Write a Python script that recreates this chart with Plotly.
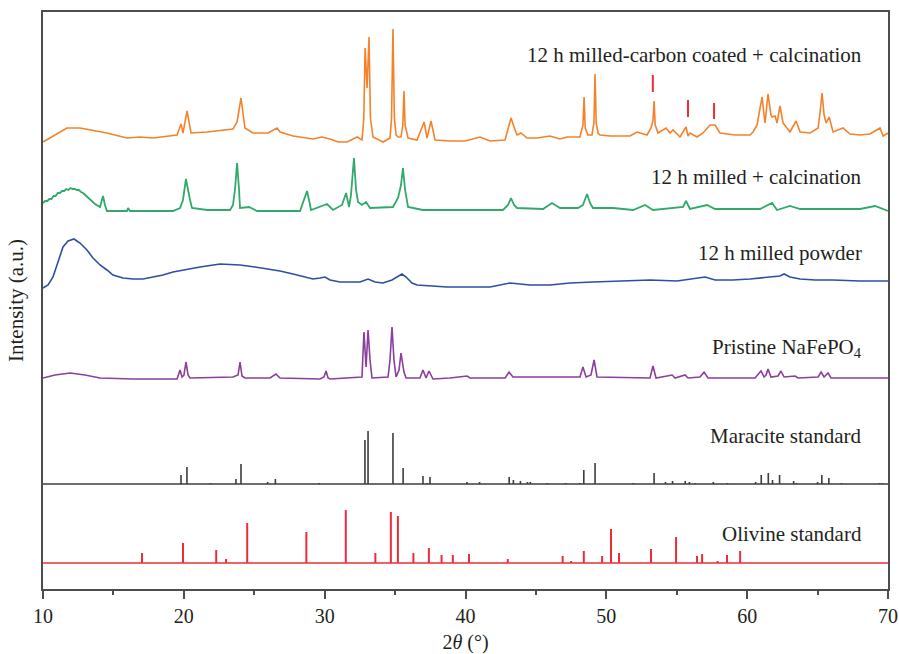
import plotly.graph_objects as go

# ---------------- data (2θ in degrees, intensity in a.u.) ----------------
orange_x = [10.00, 10.64, 11.21, 11.70, 12.63, 13.34, 14.54, 15.96, 16.89, 17.81, 18.81, 19.52, 19.80, 19.94,
            20.23, 20.51, 21.65, 23.49, 23.78, 24.06, 24.34, 24.91, 25.98, 26.26, 26.62, 26.83, 27.75, 29.17,
            29.81, 30.38, 30.95, 31.59, 32.30, 32.65, 32.78, 32.87, 33.01, 33.15, 33.25, 33.43, 34.14, 34.64,
            34.75, 34.85, 34.95, 35.07, 35.21, 35.42, 35.55, 35.63, 35.71, 35.92, 36.56, 37.06, 37.27, 37.55,
            37.84, 38.90, 39.97, 41.03, 41.74, 42.81, 43.02, 43.23, 43.52, 43.66, 43.94, 44.37, 45.08, 46.00,
            46.71, 47.21, 48.13, 48.27, 48.34, 48.42, 48.50, 48.70, 48.98, 49.12, 49.20, 49.28, 49.41, 49.55,
            50.26, 51.68, 52.18, 52.89, 53.17, 53.31, 53.39, 53.47, 53.67, 54.24, 54.52, 54.74, 55.23, 55.52,
            55.66, 55.80, 55.94, 56.44, 56.87, 57.36, 57.72, 58.07, 59.14, 60.20, 60.42, 60.70, 60.91, 61.06,
            61.20, 61.27, 61.48, 61.69, 61.77, 61.98, 62.12, 62.33, 62.55, 63.04, 63.47, 63.76, 64.47, 65.04,
            65.18, 65.32, 65.46, 65.61, 65.82, 66.10, 66.81, 67.30, 68.01, 68.72, 69.43, 69.65, 70.00]
orange_y = [1, 6, 11, 15, 15, 13, 10, 5, 6, 5, 7, 8, 19, 10,
            32, 10, 11, 14, 21, 45, 15, 10, 10, 12, 15, 11, 7, 4,
            6, 4, 1, 1, 6, 3, 25, 95, 55, 106, 25, 6, 1, 5,
            25, 114, 25, 8, 6, 6, 18, 52, 18, 5, 3, 21, 5, 22,
            3, 2, 2, 6, 2, 3, 13, 25, 13, 8, 10, 5, 5, 7,
            4, 6, 6, 13, 18, 46, 15, 8, 8, 20, 69, 20, 10, 8,
            7, 7, 11, 8, 15, 22, 42, 18, 10, 15, 10, 13, 6, 13,
            16, 7, 10, 6, 10, 18, 18, 10, 8, 8, 11, 18, 33, 46,
            28, 20, 49, 28, 26, 27, 20, 37, 20, 11, 22, 11, 10, 15,
            31, 50, 28, 20, 26, 11, 15, 9, 8, 9, 15, 7, 10]

green_x = [10.00, 10.15, 10.30, 10.45, 10.60, 10.75, 10.90, 11.05, 11.20, 11.35, 11.50, 11.65, 11.80, 11.95,
           12.10, 12.25, 12.40, 12.55, 12.70, 12.85, 13.00, 13.15, 13.34, 13.69, 14.05, 14.26, 14.40, 14.54,
           15.96, 16.04, 16.18, 19.23, 19.73, 19.94, 20.15, 20.30, 20.44, 20.58, 21.65, 23.28, 23.49, 23.63,
           23.78, 23.92, 23.99, 24.63, 25.20, 28.25, 28.46, 28.75, 28.89, 29.03, 30.17, 30.59, 31.23, 31.52,
           31.73, 31.87, 32.08, 32.23, 32.37, 32.65, 32.94, 33.22, 34.85, 35.21, 35.42, 35.56, 35.71, 35.92,
           36.98, 40.32, 42.66, 43.02, 43.23, 43.45, 43.66, 45.51, 46.14, 46.71, 47.99, 48.34, 48.63, 48.84,
           49.05, 50.48, 51.90, 52.75, 53.31, 55.45, 55.66, 55.87, 55.94, 57.15, 57.72, 60.91, 61.77, 62.12,
           63.04, 63.76, 65.67, 68.01, 69.08, 70.00]
green_y = [8, 10, 10, 12, 12, 15, 15, 18, 18, 20, 20, 22, 21, 23,
           22, 22, 21, 21, 19, 18, 16, 14, 11, 7, 4, 15, 6, 0,
           0, 3, 0, 0, 3, 11, 32, 19, 11, 3, 1, 1, 6, 21,
           48, 21, 3, 4, 0, 0, 8, 20, 11, 1, 7, 1, 6, 18,
           4, 16, 53, 21, 9, 6, 9, 3, 4, 13, 26, 43, 21, 4,
           1, 1, 1, 6, 13, 6, 3, 2, 8, 3, 3, 6, 17, 8,
           3, 3, 1, 6, 1, 4, 10, 4, 2, 6, 2, 2, 8, 1,
           5, 2, 2, 2, 5, 0]

blue_x = [10.00, 10.36, 10.71, 11.07, 11.42, 11.78, 12.20, 12.63, 13.12, 13.55, 14.05, 14.54, 14.97, 15.68,
          16.39, 17.10, 17.81, 18.52, 19.23, 20.23, 21.15, 22.57, 23.99, 25.05, 25.91, 26.83, 27.75, 29.17,
          29.67, 30.02, 30.38, 31.09, 32.51, 33.08, 33.58, 34.14, 34.78, 35.21, 35.49, 35.78, 36.20, 36.56,
          37.48, 38.69, 40.32, 41.74, 43.16, 44.58, 46.00, 47.42, 49.05, 50.97, 53.10, 55.02, 55.94, 57.01,
          57.72, 59.00, 60.20, 61.62, 62.33, 62.62, 63.04, 63.76, 64.82, 66.10, 68.01, 70.00]
blue_y = [0, 3, 11, 26, 41, 47, 49, 45, 38, 30, 23, 18, 13, 10,
          9, 9, 11, 13, 16, 19, 21, 24, 23, 21, 19, 17, 14, 9,
          10, 11, 8, 6, 6, 9, 6, 5, 8, 12, 14, 11, 5, 3,
          2, 1, 1, 1, 5, 3, 3, 5, 6, 7, 8, 7, 9, 11,
          8, 8, 9, 11, 12, 14, 11, 9, 8, 8, 7, 7]

purple_x = [10.00, 10.85, 11.92, 12.98, 14.05, 16.39, 19.52, 19.73, 19.87, 20.01, 20.15, 20.30, 20.44, 23.49,
            23.85, 23.99, 24.13, 24.34, 26.12, 26.54, 26.83, 29.67, 29.95, 30.10, 30.24, 30.38, 32.65, 32.72,
            32.79, 32.94, 33.08, 33.22, 33.36, 34.50, 34.64, 34.78, 34.92, 35.07, 35.28, 35.42, 35.49, 35.56,
            35.63, 35.78, 36.77, 36.98, 37.20, 37.41, 37.69, 38.90, 40.11, 40.32, 42.81, 43.09, 43.37, 48.13,
            48.34, 48.56, 48.91, 49.13, 49.34, 53.10, 53.31, 53.53, 54.67, 54.88, 55.59, 55.80, 56.65, 56.94,
            57.22, 60.56, 60.77, 60.98, 61.20, 61.34, 61.48, 61.69, 62.19, 62.40, 62.62, 63.40, 63.61, 65.04,
            65.25, 65.46, 65.74, 65.96, 68.01, 70.00]
purple_y = [1, 4, 6, 4, 1, 0, 0, 9, 2, 4, 17, 4, 1, 2,
            4, 17, 3, 1, 1, 5, 1, 0, 2, 8, 1, 0, 2, 19,
            47, 12, 49, 19, 1, 2, 19, 52, 19, 2, 9, 26, 19, 16,
            7, 1, 1, 9, 1, 8, 0, 1, 3, 1, 1, 7, 2, 2,
            12, 2, 4, 19, 2, 1, 13, 1, 4, 1, 4, 1, 2, 7,
            1, 1, 4, 8, 2, 4, 10, 2, 3, 8, 2, 3, 1, 2,
            7, 2, 6, 1, 1, 1]

maracite_pos = [19.80, 20.22, 21.90, 23.70, 24.06, 25.95, 26.50, 29.60, 32.86, 33.08, 34.85, 35.57, 36.98,
                37.27, 37.48, 40.10, 41.00, 43.10, 43.40, 43.90, 44.40, 44.60, 45.80, 47.10, 48.10, 48.40,
                49.20, 51.90, 53.39, 54.20, 54.70, 55.60, 55.90, 56.30, 57.60, 58.60, 60.60, 61.00, 61.50,
                61.80, 62.30, 63.30, 63.50, 65.00, 65.30, 65.80, 66.70, 69.40, 69.60]
maracite_int = [9, 17, 1, 5, 20, 2, 5, 1, 44, 53, 51, 16, 8,
                1, 7, 2, 2, 7, 4, 3, 2, 2, 1, 1, 1, 14,
                21, 1, 11, 2, 3, 3, 2, 1, 2, 1, 2, 9, 11,
                4, 9, 3, 1, 2, 9, 6, 1, 1, 1]

olivine_pos = [17.03, 19.94, 22.30, 23.00, 24.50, 28.70, 31.50, 33.60, 34.70, 35.20, 36.30, 37.40, 38.30,
               39.10, 40.25, 43.00, 46.90, 47.50, 48.40, 49.70, 50.33, 50.90, 53.17, 54.95, 56.44, 56.80,
               57.90, 58.57, 59.50]
olivine_int = [10, 20, 13, 4, 40, 31, 53, 10, 51, 47, 10, 15, 8,
               8, 9, 4, 7, 2, 12, 7, 34, 10, 14, 26, 7, 9,
               2, 8, 12]

# red reflection markers above the carbon-coated pattern
marker_pos = [53.30, 55.80, 57.65]
marker_low = [51, 26, 24]
marker_high = [68, 43, 40]

series_names = ["12 h milled-carbon coated + calcination", "12 h milled + calcination",
                "12 h milled powder", "Pristine NaFePO<sub>4</sub>",
                "Maracite standard", "Olivine standard"]
x_ticks = [10, 20, 30, 40, 50, 60, 70]

# ---------------- styling / layout ----------------
offsets = [446, 378, 301, 210, 105, 26]
colors = ["#F5822A", "#30A96A", "#2D4EA2", "#8B3E9B", "#3C3C3C", "#EC2D38"]
label_y = [534, 412, 336, 241, 153, 55]
FONT = "Liberation Serif"

fig = go.Figure()

curves = [(orange_x, orange_y), (green_x, green_y), (blue_x, blue_y), (purple_x, purple_y)]
for i, (xs, ys) in enumerate(curves):
    fig.add_trace(go.Scatter(x=xs, y=[v + offsets[i] for v in ys], mode="lines",
                             line=dict(color=colors[i], width=1.6 if i != 1 else 1.8),
                             hoverinfo="skip", showlegend=False))


def sticks(pos, ints, off):
    xs, ys = [], []
    for p, h in zip(pos, ints):
        xs += [p, p, None]
        ys += [off, off + h, None]
    return xs, ys


# maracite
fig.add_trace(go.Scatter(x=[10, 70], y=[offsets[4]] * 2, mode="lines",
                         line=dict(color=colors[4], width=1.5), hoverinfo="skip", showlegend=False))
sx, sy = sticks(maracite_pos, maracite_int, offsets[4])
fig.add_trace(go.Scatter(x=sx, y=sy, mode="lines", line=dict(color=colors[4], width=1.6),
                         hoverinfo="skip", showlegend=False))
# olivine
fig.add_trace(go.Scatter(x=[10, 70], y=[offsets[5]] * 2, mode="lines",
                         line=dict(color=colors[5], width=1.5), hoverinfo="skip", showlegend=False))
sx, sy = sticks(olivine_pos, olivine_int, offsets[5])
fig.add_trace(go.Scatter(x=sx, y=sy, mode="lines", line=dict(color=colors[5], width=2),
                         hoverinfo="skip", showlegend=False))
# markers
mx, my = [], []
for p, lo, hi in zip(marker_pos, marker_low, marker_high):
    mx += [p, p, None]
    my += [offsets[0] + lo, offsets[0] + hi, None]
fig.add_trace(go.Scatter(x=mx, y=my, mode="lines", line=dict(color="#EC2D38", width=2),
                         hoverinfo="skip", showlegend=False))

for name, yy in zip(series_names, label_y):
    fig.add_annotation(x=68.3, y=yy, xref="x", yref="y", text=name, showarrow=False,
                       xanchor="right", yanchor="middle",
                       font=dict(family=FONT, size=21, color="#231F20"))

fig.update_layout(
    width=899, height=654,
    margin=dict(l=43, r=11, t=12, b=65, autoexpand=False),
    paper_bgcolor="white", plot_bgcolor="white",
    font=dict(family=FONT, size=20, color="#231F20"),
    xaxis=dict(range=[10, 70], tickvals=x_ticks, ticks="outside", ticklen=8, tickwidth=1.5,
               tickcolor="#4D4D4D", showline=True, linecolor="#4D4D4D", linewidth=1.5, mirror=True,
               showgrid=False, zeroline=False, automargin=False,
               minor=dict(ticks="outside", ticklen=4, tickwidth=1.5, tickcolor="#4D4D4D",
                          tickvals=[15, 25, 35, 45, 55, 65], showgrid=False),
               tickfont=dict(family=FONT, size=20, color="#231F20"),
               title=dict(text="2<i>θ</i> (°)", font=dict(family=FONT, size=20, color="#231F20"),
                          standoff=12)),
    yaxis=dict(range=[0, 577], showticklabels=False, ticks="", showgrid=False, zeroline=False,
               showline=True, linecolor="#4D4D4D", linewidth=1.5, mirror=True, automargin=False,
               title=dict(text="Intensity (a.u.)", font=dict(family=FONT, size=21, color="#231F20"),
                          standoff=12)),
)

fig.write_html("out.html")
